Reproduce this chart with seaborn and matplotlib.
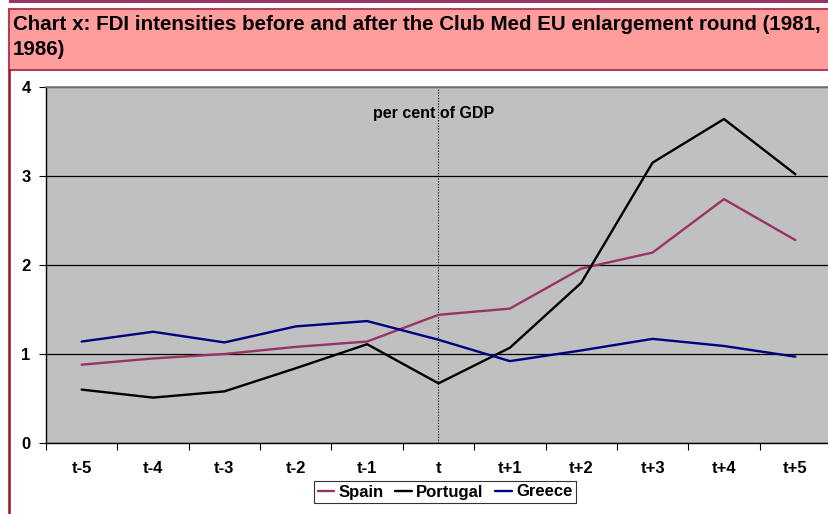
import matplotlib

matplotlib.use("Agg")

import matplotlib.pyplot as plt
import pandas as pd
import seaborn as sns
from matplotlib.lines import Line2D
from matplotlib.patches import Rectangle
from matplotlib.ticker import FixedLocator

# data (per cent of GDP)
periods = ["t-5", "t-4", "t-3", "t-2", "t-1", "t", "t+1", "t+2", "t+3", "t+4", "t+5"]
spain = [0.88, 0.95, 1.00, 1.08, 1.14, 1.44, 1.51, 1.96, 2.14, 2.74, 2.28]
portugal = [0.60, 0.51, 0.58, 0.84, 1.11, 0.67, 1.07, 1.80, 3.15, 3.64, 3.02]
greece = [1.14, 1.25, 1.13, 1.31, 1.37, 1.16, 0.92, 1.04, 1.17, 1.09, 0.97]
countries = ["Spain", "Portugal", "Greece"]
colors = {"Spain": "#993366", "Portugal": "#000000", "Greece": "#000080"}

df = pd.DataFrame(
    {"period": periods * 3,
     "x": list(range(len(periods))) * 3,
     "value": spain + portugal + greece,
     "country": [c for c in countries for _ in periods]}
)

sns.set_theme(style="white")
plt.rcParams["font.family"] = ["Liberation Sans", "DejaVu Sans"]
plt.rcParams["font.weight"] = "bold"
plt.rcParams["text.color"] = "black"
plt.rcParams["xtick.color"] = "black"
plt.rcParams["ytick.color"] = "black"

W, H = 829, 514
fig = plt.figure(figsize=(W / 100, H / 100), dpi=100)
fig.patch.set_facecolor("white")


def fx(px):
    return px / W


def fy(py):
    return 1 - py / H


# frame decorations
fig.patches.append(Rectangle((fx(9), fy(3)), 1, fy(0) - fy(3), transform=fig.transFigure,
                             facecolor="#993366", edgecolor="none"))
fig.patches.append(Rectangle((fx(9), fy(70)), 1, fy(9) - fy(70), transform=fig.transFigure,
                             facecolor="#FF9C9C", edgecolor="#B0405A", linewidth=1.5))
fig.lines.append(Line2D([fx(9), fx(9)], [0, fy(70)], transform=fig.transFigure,
                        color="#A01020", linewidth=1.8))
fig.text(fx(13), fy(15), "Chart x: FDI intensities before and after the Club Med EU enlargement round (1981,\n1986)",
         ha="left", va="top", fontsize=14.8, fontweight="bold", linespacing=1.4, color="black")

ax = fig.add_axes([fx(46), fy(443), fx(831) - fx(46), fy(87) - fy(443)])
ax.set_facecolor("#C0C0C0")

sns.lineplot(data=df, x="x", y="value", hue="country", palette=colors,
             hue_order=countries, linewidth=1.7, legend=False, ax=ax)

ax.axvline(5, color="black", linestyle=(0, (1, 1.5)), linewidth=0.8, zorder=1)
ax.text(4.93, 3.7, "per cent of GDP", ha="center", va="center", fontsize=11.5, fontweight="bold")

ax.set_xlim(-0.5, 10.5)
ax.set_ylim(0, 4)
ax.set_yticks([0, 1, 2, 3, 4])
ax.set_yticklabels(["0", "1", "2", "3", "4"], fontsize=12, fontweight="bold")
ax.yaxis.grid(True, color="black", linewidth=0.9)
ax.set_axisbelow(True)
ax.set_xticks(range(len(periods)))
ax.set_xticklabels(periods, fontsize=12, fontweight="bold")
ax.xaxis.set_minor_locator(FixedLocator([i - 0.5 for i in range(len(periods) + 1)]))
ax.tick_params(axis="x", which="major", length=0, pad=13)
ax.tick_params(axis="x", which="minor", length=5, width=0.8, color="black", direction="out", bottom=True)
ax.tick_params(axis="y", length=5, width=0.8, color="black", direction="out", left=True, pad=6)
ax.set_xlabel("")
ax.set_ylabel("")
for side in ["left", "bottom"]:
    ax.spines[side].set_color("black")
    ax.spines[side].set_linewidth(1.0)
ax.spines["top"].set_color("#808080")
ax.spines["right"].set_visible(False)

handles = [Line2D([], [], color=colors[c], linewidth=1.7) for c in countries]
leg = fig.legend(handles, countries, loc="center", bbox_to_anchor=(fx(445), fy(492)), ncol=3,
                 frameon=True, fancybox=False, edgecolor="black",
                 handlelength=1.0, handletextpad=0.25, columnspacing=0.7,
                 borderpad=0.2, prop={"weight": "bold", "size": 12})
leg.get_frame().set_linewidth(0.8)

fig.savefig("out.png", dpi=100)
